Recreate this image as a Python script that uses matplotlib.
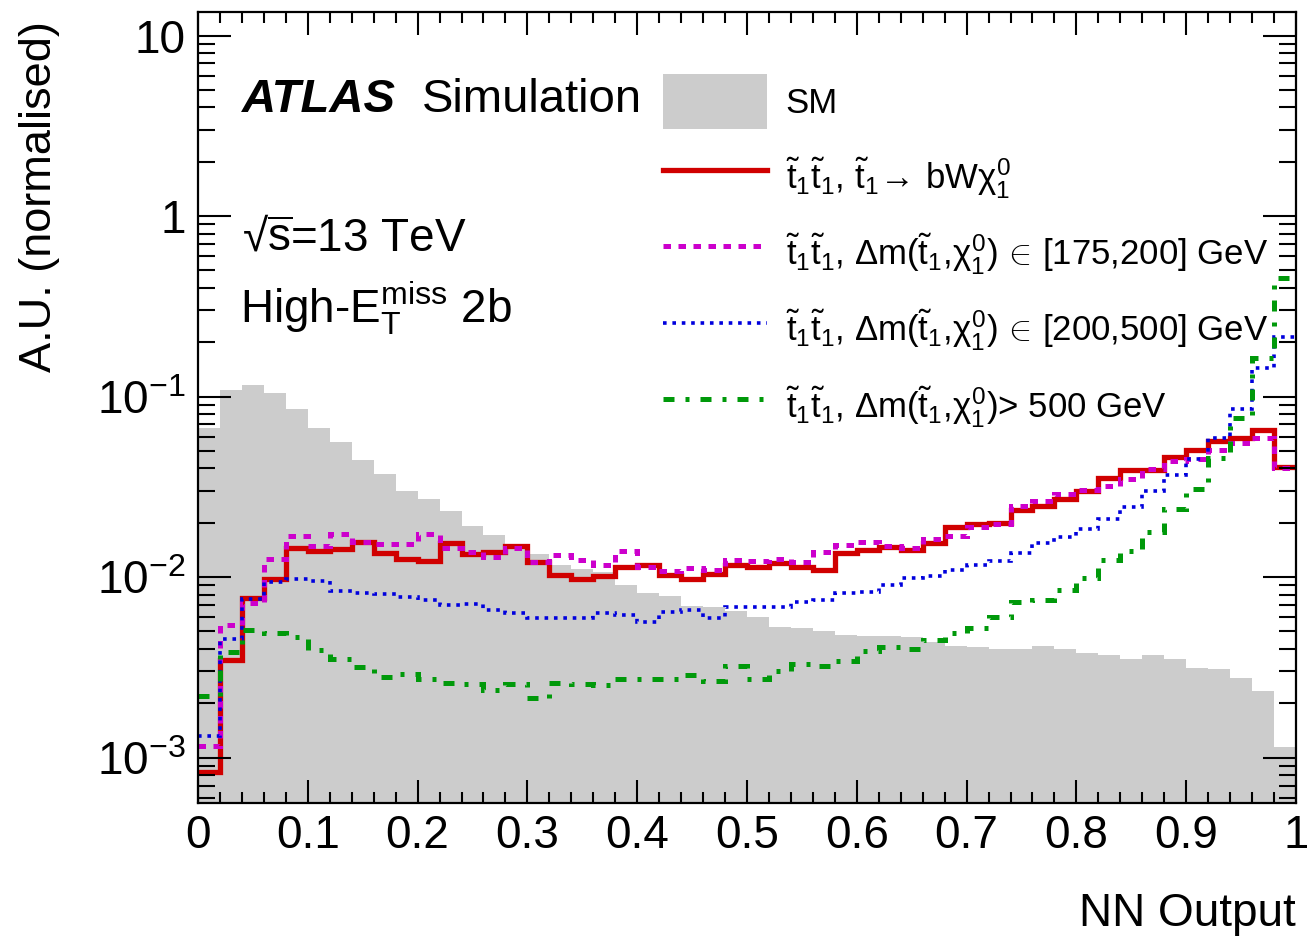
import numpy as np
import matplotlib
matplotlib.use("Agg")
import matplotlib.pyplot as plt
from matplotlib.lines import Line2D
from matplotlib.patches import Patch
from matplotlib.ticker import FixedLocator, FixedFormatter, MultipleLocator, LogLocator, NullFormatter

plt.rcParams["font.family"] = ["Liberation Sans", "DejaVu Sans"]
plt.rcParams["mathtext.fontset"] = "custom"
plt.rcParams["mathtext.rm"] = "Liberation Sans"
plt.rcParams["mathtext.it"] = "Liberation Sans"
plt.rcParams["mathtext.sf"] = "Liberation Sans"
plt.rcParams["mathtext.bf"] = "Liberation Sans:bold"

# binning of the NN output
n_bins = 50
x_range = (0.0, 1.0)

# SM background (grey filled)
sm = [0.067, 0.109, 0.116, 0.104, 0.085, 0.067, 0.056, 0.0447, 0.037, 0.030,
      0.0272, 0.0231, 0.0192, 0.0170, 0.0153, 0.0135, 0.0116, 0.0111, 0.0106, 0.0090,
      0.0082, 0.0079, 0.0069, 0.0068, 0.0065, 0.0060, 0.0053, 0.0052, 0.0050, 0.0048,
      0.00474, 0.0047, 0.00464, 0.00436, 0.00414, 0.00408, 0.0040, 0.0040, 0.00416, 0.0040,
      0.00378, 0.00369, 0.00353, 0.0037, 0.00352, 0.00313, 0.0031, 0.00277, 0.00233, 0.00114]

# stop -> bW chi (red solid)
bwn = [0.00083, 0.00345, 0.00764, 0.0097, 0.0145, 0.0140, 0.0143, 0.0157, 0.0136, 0.0126,
       0.0122, 0.0155, 0.0135, 0.0137, 0.0148, 0.0121, 0.0103, 0.0098, 0.0101, 0.0113,
       0.0116, 0.0103, 0.0098, 0.0104, 0.0116, 0.0113, 0.0120, 0.0113, 0.0109, 0.0136,
       0.0141, 0.0147, 0.0142, 0.0154, 0.0189, 0.0196, 0.0199, 0.0234, 0.0248, 0.0269,
       0.0299, 0.0355, 0.039, 0.039, 0.0465, 0.0503, 0.057, 0.0592, 0.0656, 0.0408]

# dm in [175,200] GeV (magenta dashed)
dm_low = [0.00116, 0.0054, 0.0072, 0.0126, 0.0169, 0.0148, 0.0174, 0.0156, 0.0152, 0.0152,
          0.0174, 0.0144, 0.0138, 0.0129, 0.0144, 0.0121, 0.0132, 0.0125, 0.0117, 0.0139,
          0.0114, 0.0108, 0.0112, 0.0109, 0.0125, 0.0122, 0.0126, 0.0121, 0.0137, 0.0150,
          0.0156, 0.0148, 0.0144, 0.0163, 0.0168, 0.0189, 0.0197, 0.0247, 0.0265, 0.0288,
          0.0302, 0.0319, 0.035, 0.0395, 0.0438, 0.0448, 0.0503, 0.0552, 0.0591, 0.0403]

# dm in [200,500] GeV (blue dotted)
dm_mid = [0.00132, 0.00455, 0.0076, 0.0094, 0.0097, 0.0095, 0.0084, 0.0082, 0.0081, 0.0078,
          0.0075, 0.0070, 0.0071, 0.0066, 0.0063, 0.0059, 0.0059, 0.0059, 0.0063, 0.0062,
          0.0056, 0.0064, 0.0066, 0.0059, 0.0068, 0.0068, 0.0068, 0.0073, 0.0075, 0.0082,
          0.0083, 0.0090, 0.0099, 0.0101, 0.0110, 0.0116, 0.0123, 0.0136, 0.0154, 0.0167,
          0.0185, 0.021, 0.0245, 0.0299, 0.0367, 0.0448, 0.0591, 0.0858, 0.143, 0.214]

# dm > 500 GeV (green dash-dot)
dm_high = [0.0022, 0.00384, 0.00506, 0.0049, 0.00464, 0.00395, 0.00352, 0.00317, 0.00281, 0.00289,
           0.00273, 0.00258, 0.00254, 0.00237, 0.00256, 0.00213, 0.00258, 0.00256, 0.00253, 0.00273,
           0.00273, 0.00273, 0.00285, 0.00267, 0.0032, 0.00273, 0.00303, 0.00328, 0.00323, 0.00342,
           0.00388, 0.00408, 0.0040, 0.00449, 0.00489, 0.00524, 0.0060, 0.00723, 0.00743, 0.00853,
           0.0099, 0.0125, 0.014, 0.0177, 0.0239, 0.0309, 0.0458, 0.0764, 0.164, 0.456]

stst = r"$\tilde{\mathrm{t}}_{1}\tilde{\mathrm{t}}_{1}$, "
dm = r"$\Delta$m($\tilde{\mathrm{t}}_{1}$,$\chi^{0}_{1}$)"
labels = [
    "SM",
    stst + r"$\tilde{\mathrm{t}}_{1}\!{\rightarrow}\,$bW$\chi^{0}_{1}$",
    stst + dm + r" $\!{\in}\!$ [175,200] GeV",
    stst + dm + r" $\!{\in}\!$ [200,500] GeV",
    stst + dm + "> 500 GeV",
]

edges = np.linspace(x_range[0], x_range[1], n_bins + 1)

fig = plt.figure(figsize=(13.07, 9.40), dpi=100)
ax = fig.add_axes([198 / 1307, 1 - 803 / 940, 1098 / 1307, 791 / 940])

grey = "#cccccc"
styles = [
    dict(color="#d00000", lw=3.8, ls="-"),
    dict(color="#cc00cc", lw=3.6, ls=(0, (1.5, 1.5))),
    dict(color="#0000dd", lw=2.6, ls=(0, (1.0, 1.6))),
    dict(color="#00990a", lw=3.6, ls=(0, (2.2, 2.2, 0.8, 2.2))),
]

ax.stairs(sm, edges, fill=True, color=grey, baseline=1e-6, lw=0)
for vals, st in zip([bwn, dm_low, dm_mid, dm_high], styles):
    ax.stairs(vals, edges, baseline=None, color=st["color"], lw=st["lw"], ls=st["ls"])

ax.set_yscale("log")
ax.set_xlim(*x_range)
ax.set_ylim(5.6e-4, 13.5)

# ticks, ROOT/ATLAS style
ax.xaxis.set_minor_locator(MultipleLocator(0.02))
ax.set_xticks(np.round(np.arange(0, 1.01, 0.1), 1))
ax.set_xticklabels(["0", "0.1", "0.2", "0.3", "0.4", "0.5", "0.6", "0.7", "0.8", "0.9", "1"])
ax.yaxis.set_major_locator(FixedLocator([1e-3, 1e-2, 1e-1, 1, 10]))
ax.yaxis.set_major_formatter(FixedFormatter([r"$10^{-3}$", r"$10^{-2}$", r"$10^{-1}$", "1", "10"]))
ax.yaxis.set_minor_locator(LogLocator(base=10, subs=np.arange(2, 10), numticks=30))
ax.yaxis.set_minor_formatter(NullFormatter())

ax.tick_params(which="both", direction="in", top=True, right=True, width=1.5, labelsize=33)
ax.tick_params(axis="x", which="major", length=16.5, pad=8)
ax.tick_params(axis="x", which="minor", length=8)
ax.tick_params(axis="y", which="major", length=24, pad=9)
ax.tick_params(axis="y", which="minor", length=12)
for sp in ax.spines.values():
    sp.set_linewidth(1.6)

ax.set_xlabel("NN Output", fontsize=33)
ax.xaxis.set_label_coords(1.0, -0.112)
ax.xaxis.label.set_ha("right")
ax.xaxis.label.set_va("top")
ax.set_ylabel("A.U. (normalised)", fontsize=32.5)
ax.yaxis.set_label_coords(-0.144, 0.988)
ax.yaxis.label.set_ha("right")
ax.yaxis.label.set_va("center")

# ATLAS labels
ax.text(0.040, 0.874, "ATLAS", transform=ax.transAxes, fontsize=34,
        fontweight="bold", fontstyle="italic", va="baseline")
ax.text(0.204, 0.874, "Simulation", transform=ax.transAxes, fontsize=34, va="baseline")
ax.text(0.040, 0.699, r"√$\overline{\mathrm{s}}$=13 TeV", transform=ax.transAxes,
        fontsize=33, va="baseline")
ax.text(0.038, 0.608, r"High-E$_{\mathrm{T}}^{\mathrm{miss}}$ 2b", transform=ax.transAxes,
        fontsize=33, va="baseline")

handles = [Patch(facecolor=grey, edgecolor="none")]
for st in styles:
    handles.append(Line2D([], [], color=st["color"], lw=st["lw"], ls=st["ls"]))
ax.legend(handles, labels, loc="upper left", bbox_to_anchor=((663 - 198) / 1098, 0.921),
          frameon=False, fontsize=25, borderpad=0, borderaxespad=0,
          handlelength=3.0, handleheight=2.05, handletextpad=0.53, labelspacing=0.62)

fig.savefig("out.png", dpi=100)
